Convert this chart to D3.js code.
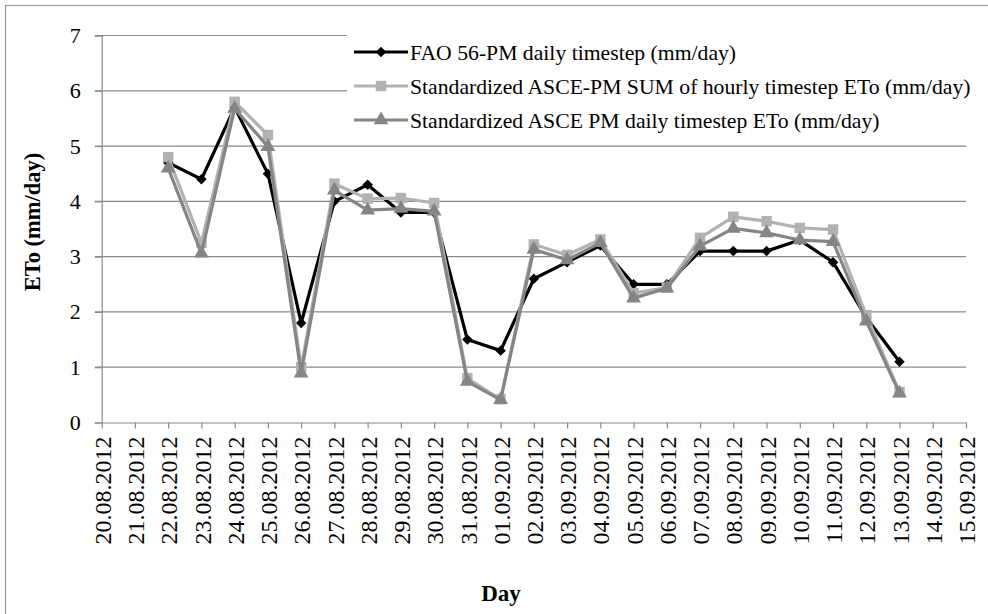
<!DOCTYPE html>
<html><head><meta charset="utf-8">
<script src="https://cdn.jsdelivr.net/npm/d3@7"></script>
<style>
html,body{margin:0;padding:0;background:#fff;}
svg{display:block;font-family:"Liberation Serif","Times New Roman",serif;}
</style></head>
<body><svg id="c" width="988" height="614"></svg>
<script>
const categories = ["20.08.2012","21.08.2012","22.08.2012","23.08.2012","24.08.2012","25.08.2012","26.08.2012","27.08.2012","28.08.2012","29.08.2012","30.08.2012","31.08.2012","01.09.2012","02.09.2012","03.09.2012","04.09.2012","05.09.2012","06.09.2012","07.09.2012","08.09.2012","09.09.2012","10.09.2012","11.09.2012","12.09.2012","13.09.2012","14.09.2012","15.09.2012"];
const dataDays = categories.slice(2, 25);
const faoDaily = [4.7,4.4,5.7,4.5,1.8,4.0,4.3,3.8,3.8,1.5,1.3,2.6,2.9,3.2,2.5,2.5,3.1,3.1,3.1,3.3,2.9,1.9,1.1];
const asceHourlySum = [4.8,3.25,5.8,5.2,1.0,4.32,4.05,4.06,3.97,0.8,0.42,3.22,3.03,3.31,2.34,2.44,3.34,3.72,3.64,3.52,3.49,1.94,0.55];
const asceDaily = [4.6,3.06,5.68,4.99,0.89,4.2,3.84,3.87,3.82,0.74,0.41,3.13,2.94,3.25,2.25,2.43,3.19,3.51,3.43,3.3,3.27,1.83,0.53];
const seriesNames = ["FAO 56-PM daily timestep (mm/day)","Standardized ASCE-PM SUM of hourly timestep ETo (mm/day)","Standardized ASCE PM daily timestep ETo (mm/day)"];
const yTicks = [0,1,2,3,4,5,6,7];

const series = [
  {name: seriesNames[0], values: faoDaily, color:"#000000", marker:"diamond"},
  {name: seriesNames[1], values: asceHourlySum, color:"#b2b2b2", marker:"square"},
  {name: seriesNames[2], values: asceDaily, color:"#858585", marker:"triangle"}
];

const svg = d3.select("#c");
// outer border
svg.append("rect").attr("x",5.5).attr("y",5.5).attr("width",1000).attr("height",700)
  .attr("fill","none").attr("stroke","#9a9a9a").attr("stroke-width",1.2);

const x = d3.scalePoint().domain(categories).range([101.7, 966]);
const y = d3.scaleLinear().domain([0,7]).range([422.5, 35.5]);
const axisColor = "#8a8a8a";

// gridlines
svg.append("g").selectAll("line").data(yTicks.filter(d=>d>0)).join("line")
  .attr("x1",95).attr("x2",966).attr("y1",d=>y(d)).attr("y2",d=>y(d))
  .attr("stroke",axisColor).attr("stroke-width",1.2);

// y axis
const yAxis = svg.append("g").attr("transform","translate(101.7,0)")
  .call(d3.axisLeft(y).tickValues(yTicks).tickFormat(d3.format("d")).tickSize(7).tickPadding(14));
yAxis.select(".domain").attr("stroke",axisColor).attr("stroke-width",1.2);
yAxis.selectAll(".tick line").attr("stroke",axisColor).attr("stroke-width",1.2);
yAxis.selectAll("text").attr("font-size",22).attr("font-family","Liberation Serif").attr("fill","#000");

// x axis
const xAxis = svg.append("g").attr("transform","translate(0,422.5)")
  .call(d3.axisBottom(x).tickSize(6).tickSizeOuter(0));
xAxis.select(".domain").attr("stroke",axisColor).attr("stroke-width",1.2);
xAxis.selectAll(".tick line").attr("stroke",axisColor).attr("stroke-width",1.2);
xAxis.selectAll("text").attr("font-size",24).attr("font-family","Liberation Serif").attr("fill","#000")
  .attr("transform","rotate(-90)").attr("text-anchor","end")
  .attr("x",-14).attr("y",0).attr("dy","0.36em");

// symbols
function sym(type){
  if(type==="diamond") return d3.symbol().type(d3.symbolDiamond2).size(70)();
  if(type==="square") return d3.symbol().type(d3.symbolSquare).size(110)();
  return d3.symbol().type(d3.symbolTriangle).size(95)();
}

const line = d3.line().x(d=>x(d.day)).y(d=>y(d.v));
series.forEach(s=>{
  const pts = dataDays.map((day,i)=>({day, v:s.values[i]}));
  const g = svg.append("g");
  g.append("path").datum(pts).attr("d",line).attr("fill","none")
    .attr("stroke",s.color).attr("stroke-width",3.2).attr("stroke-linejoin","round");
  g.selectAll("path.m").data(pts).join("path").attr("class","m")
    .attr("d",sym(s.marker))
    .attr("transform",d=>`translate(${x(d.day)},${y(d.v)})`)
    .attr("fill",s.color);
});

// legend
const leg = svg.append("g");
leg.append("rect").attr("x",347).attr("y",28).attr("width",640).attr("height",110).attr("fill","#fff");
const legY = [52,86,120];
series.forEach((s,i)=>{
  const gy = legY[i];
  leg.append("line").attr("x1",354).attr("x2",408).attr("y1",gy).attr("y2",gy)
    .attr("stroke",s.color).attr("stroke-width",3.2);
  leg.append("path").attr("d",sym(s.marker)).attr("transform",`translate(381,${gy})`).attr("fill",s.color);
  leg.append("text").attr("x",410).attr("y",gy).attr("dy","0.35em")
    .attr("font-size",21.7).attr("fill","#000").text(s.name);
});

// axis titles
svg.append("text").attr("transform","translate(32,222) rotate(-90)")
  .attr("text-anchor","middle").attr("dy","0.35em")
  .attr("font-size",22.5).attr("font-weight","bold").text("ETo (mm/day)");
svg.append("text").attr("x",501).attr("y",601).attr("text-anchor","middle")
  .attr("font-size",23).attr("font-weight","bold").text("Day");
</script></body></html>
